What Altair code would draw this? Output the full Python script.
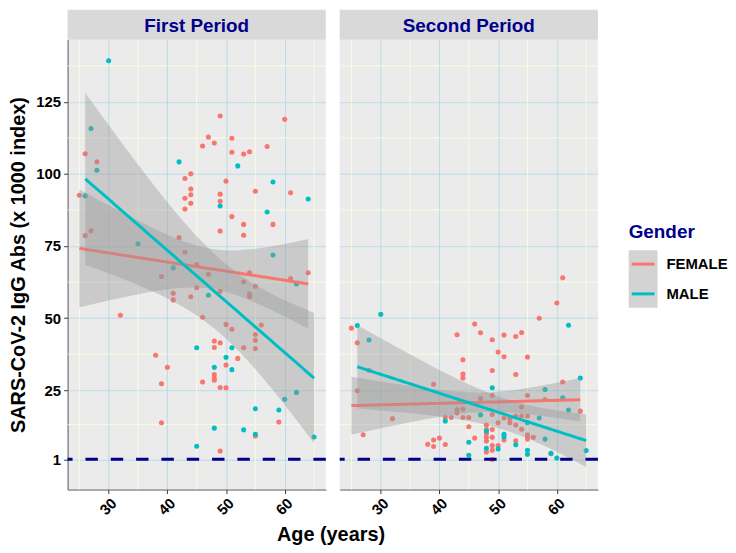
import altair as alt
import numpy as np
import pandas as pd

periods = ["First Period", "Second Period"]
genders = ["FEMALE", "MALE"]
colors = ["#F8766D", "#00BFC4"]

# ---- First period ----
p1_female_age = [49, 60, 47, 51, 48, 46, 57, 51, 54, 53, 26, 28, 44, 43, 50, 44, 55, 61, 25, 44,
                 49, 43, 44, 49, 43, 51, 53, 58, 49, 53, 26, 27, 42, 43, 45, 47, 54, 64, 39, 61,
                 53, 55, 45, 49, 41, 54, 54, 44, 41, 32, 46, 50, 51, 56, 55, 55, 55, 53, 48, 49,
                 48, 52, 50, 38, 40, 39, 46, 48, 48, 48, 49, 50, 59, 39, 55, 49]
p1_female_val = [120.1, 119.0, 112.8, 112.4, 110.7, 109.7, 109.5, 107.5, 107.7, 106.9, 107.0, 104.2,
                 100.1, 98.4, 97.5, 94.8, 94.0, 93.5, 92.6, 92.8, 93.0, 91.6, 89.8, 90.5, 87.8, 85.2,
                 82.5, 82.5, 80.2, 78.7, 78.6, 80.3, 77.9, 72.8, 68.6, 65.2, 65.7, 65.7, 64.4, 63.7,
                 62.6, 61.0, 60.5, 59.3, 58.6, 58.3, 57.4, 57.4, 56.3, 51.0, 50.3, 47.8, 46.1, 47.6,
                 44.3, 42.3, 39.4, 39.7, 42.0, 41.4, 39.8, 36.0, 33.7, 37.1, 32.9, 27.2, 27.8, 30.4,
                 29.2, 28.4, 25.9, 25.8, 13.9, 13.7, 9.1, 3.9]
p1_male_age = [30, 27, 28, 26, 42, 52, 58, 64, 49, 57, 35, 58, 41, 62, 47, 45, 51, 50, 51, 48,
               62, 60, 55, 59, 48, 53, 55, 45, 65]
p1_male_val = [139.3, 115.8, 101.3, 92.4, 104.2, 102.8, 97.2, 91.3, 88.9, 86.8, 75.8, 71.9, 67.4,
               61.8, 57.9, 39.7, 39.7, 36.4, 32.1, 32.9, 24.2, 21.8, 18.5, 18.1, 11.8, 11.2, 9.7,
               5.5, 8.7]

# ---- Second period ----
p2_female_age = [61, 60, 57, 25, 26, 28, 26, 46, 47, 43, 49, 51, 53, 54, 50, 51, 55, 44, 49, 44,
                 44, 53, 61, 58, 64, 39, 32, 27, 47, 49, 54, 55, 44, 43, 43, 41, 42, 44, 45, 45,
                 49, 50, 51, 52, 53, 54, 53, 54, 55, 48, 48, 49, 55, 38, 39, 39, 40, 41, 46, 48,
                 48, 48, 48, 49, 49, 49, 49, 50, 51, 53, 55, 55, 56, 59, 52]
p2_female_val = [64.0, 55.2, 49.9, 46.5, 41.4, 31.9, 24.8, 47.9, 44.9, 44.2, 42.5, 44.1, 43.6, 45.0,
                 38.2, 36.6, 36.5, 35.5, 31.8, 30.6, 29.2, 30.4, 27.8, 21.7, 17.7, 27.0, 15.1, 9.5,
                 22.1, 23.1, 19.1, 23.1, 18.4, 18.2, 17.1, 15.5, 15.5, 15.5, 15.5, 12.3, 16.5, 13.7,
                 15.3, 13.7, 12.9, 11.4, 16.0, 16.0, 16.0, 12.9, 11.3, 11.3, 9.5, 6.2, 7.7, 5.4,
                 8.4, 6.1, 8.4, 9.9, 8.6, 7.3, 3.5, 8.6, 5.8, 4.1, 0.9, 5.8, 7.7, 7.4, 8.9, 8.0,
                 8.6, 2.9, 15.1]
p2_male_age = [62, 30, 26, 28, 49, 64, 58, 61, 62, 41, 47, 57, 55, 48, 51, 45, 45, 48, 50, 51,
               53, 55, 55, 58, 59, 60, 65]
p2_male_val = [47.5, 51.3, 47.4, 42.4, 25.8, 29.2, 25.2, 22.3, 18.1, 14.3, 16.4, 15.3, 13.7, 10.8,
               9.7, 6.9, 2.4, 4.8, 4.6, 8.8, 6.0, 4.1, 2.7, 8.0, 3.1, 1.4, 4.0]

threshold = [1]
x_ticks = [30, 40, 50, 60]
y_ticks = [1, 25, 50, 75, 100, 125]
x_minor = [25, 35, 45, 55, 65]
y_minor = [13, 37.5, 62.5, 87.5, 112.5, 137.5]

FONT = "Liberation Sans"
NAVY = "#00008B"
W, H = 260, 453
STRIP = 30

xscale = alt.Scale(domain=[23, 67], nice=False, zero=False)
yscale = alt.Scale(domain=[-9.5, 146.6], nice=False, zero=False)
cscale = alt.Scale(domain=genders, range=colors)


def t975(df):
    z = 1.959963985
    g1 = (z ** 3 + z) / 4
    g2 = (5 * z ** 5 + 16 * z ** 3 + 3 * z) / 96
    g3 = (3 * z ** 7 + 19 * z ** 5 + 17 * z ** 3 - 15 * z) / 384
    return z + g1 / df + g2 / df ** 2 + g3 / df ** 3


def lm_band(ages, vals, n=80):
    x = np.asarray(ages, float)
    y = np.asarray(vals, float)
    b, a = np.polyfit(x, y, 1)
    m = len(x)
    resid = y - (a + b * x)
    s = np.sqrt((resid ** 2).sum() / (m - 2))
    xbar = x.mean()
    sxx = ((x - xbar) ** 2).sum()
    xs = np.linspace(x.min(), x.max(), n)
    fit = a + b * xs
    se = s * np.sqrt(1.0 / m + (xs - xbar) ** 2 / sxx)
    t = t975(m - 2)
    return pd.DataFrame({"age": xs, "fit": fit, "lo": fit - t * se, "hi": fit + t * se})


def panel(title, fa, fv, ma, mv, first):
    pts = pd.DataFrame({
        "age": fa + ma,
        "value": fv + mv,
        "gender": ["FEMALE"] * len(fa) + ["MALE"] * len(ma),
    })
    xaxis = alt.Axis(values=x_ticks, grid=True, gridColor="#ADD8E6", gridWidth=0.8,
                     labelAngle=315, labelAlign="right", labelBaseline="top",
                     labelFont=FONT, labelFontSize=15, labelFontWeight="bold",
                     labelColor="black", labelPadding=2, tickColor="#333333", tickSize=4,
                     domainColor="#595959", title=None)
    if first:
        yaxis = alt.Axis(values=y_ticks, grid=True, gridColor="#ADD8E6", gridWidth=0.8,
                         labelFont=FONT, labelFontSize=15, labelFontWeight="bold",
                         labelColor="black", labelPadding=3, tickColor="#333333", tickSize=4,
                         domainColor="#595959", title="SARS-CoV-2 IgG Abs (x 1000 index)",
                         titleFont=FONT, titleFontSize=20, titleFontWeight="bold",
                         titleColor="black", titlePadding=7)
    else:
        yaxis = alt.Axis(values=y_ticks, grid=True, gridColor="#ADD8E6", gridWidth=0.8,
                         labels=False, ticks=False, domain=False, title=None,
                         minExtent=0, maxExtent=0, labelPadding=0, tickSize=0)

    def X(f):
        return alt.X(f, scale=xscale, axis=xaxis)

    def Y(f):
        return alt.Y(f, scale=yscale, axis=yaxis)

    xminor = alt.Chart(pd.DataFrame({"v": x_minor})).mark_rule(
        color="#FFFFE0", strokeWidth=0.8).encode(x=X("v:Q"))
    yminor = alt.Chart(pd.DataFrame({"v": y_minor})).mark_rule(
        color="#FFFFE0", strokeWidth=0.8).encode(y=Y("v:Q"))

    points = alt.Chart(pts).mark_circle(size=26, opacity=1).encode(
        x=X("age:Q"),
        y=Y("value:Q"),
        color=alt.Color("gender:N", scale=cscale, legend=None),
    )

    layers = [xminor, yminor, points]
    for g, col, ag, vl in [("FEMALE", colors[0], fa, fv), ("MALE", colors[1], ma, mv)]:
        band = lm_band(ag, vl)
        layers.append(alt.Chart(band).mark_area(color="#999999", opacity=0.4, clip=True).encode(
            x=X("age:Q"),
            y=Y("lo:Q"),
            y2="hi:Q",
        ))
        layers.append(alt.Chart(band).mark_line(color=col, strokeWidth=3, clip=True).encode(
            x=X("age:Q"),
            y=Y("fit:Q"),
        ))

    hline = alt.Chart(pd.DataFrame({"y": threshold})).mark_rule(
        color=NAVY, strokeWidth=3, strokeDash=[12.5, 13]).encode(y=Y("y:Q"))
    layers.append(hline)

    tdf = pd.DataFrame({"label": [title]})
    strip = alt.Chart(tdf).mark_rect(color="#D9D9D9").encode(
        x=alt.value(0), x2=alt.value(W), y=alt.value(-STRIP), y2=alt.value(0))
    stext = alt.Chart(tdf).mark_text(font=FONT, fontSize=19, fontWeight="bold", color=NAVY,
                                     baseline="middle", align="center").encode(
        x=alt.value(W / 2), y=alt.value(-STRIP / 2 + 1), text="label:N")
    layers += [strip, stext]

    return alt.layer(*layers).properties(
        width=W, height=H, view=alt.ViewBackground(fill="#EBEBEB", strokeWidth=0))


p1 = panel(periods[0], p1_female_age, p1_female_val, p1_male_age, p1_male_val, True)
p2 = panel(periods[1], p2_female_age, p2_female_val, p2_male_age, p2_male_val, False)

gdf = pd.DataFrame({"gender": genders})
lscale = alt.Scale(type="point", domain=genders, range=[226, 256], padding=0)
leg_bg = alt.Chart(pd.DataFrame({"k": [0]})).mark_rect(color="#D3D3D3").encode(
    x=alt.value(0), x2=alt.value(29), y=alt.value(212), y2=alt.value(270))
leg_lines = alt.Chart(gdf).mark_rule(strokeWidth=3).encode(
    x=alt.value(3), x2=alt.value(26),
    y=alt.Y("gender:N", scale=lscale, axis=None),
    color=alt.Color("gender:N", scale=cscale, legend=None))
leg_text = alt.Chart(gdf).mark_text(font=FONT, fontSize=15, fontWeight="bold", color="black",
                                    align="left", baseline="middle").encode(
    x=alt.value(38), y=alt.Y("gender:N", scale=lscale, axis=None), text="gender:N")
leg_title = alt.Chart(pd.DataFrame({"t": ["Gender"]})).mark_text(
    font=FONT, fontSize=19, fontWeight="bold", color=NAVY, align="left",
    baseline="alphabetic").encode(x=alt.value(0), y=alt.value(200), text="t:N")
legend = alt.layer(leg_bg, leg_lines, leg_text, leg_title).properties(
    width=90, height=H, view=alt.ViewBackground(fill="white", strokeWidth=0))

panels = alt.hconcat(
    p1, p2, spacing=10,
    title=alt.TitleParams(text="Age (years)", orient="bottom", anchor="middle", dx=27,
                          font=FONT, fontSize=20, fontWeight="bold", color="black",
                          offset=7),
).resolve_scale(x="independent", y="independent")
chart = alt.hconcat(panels, legend, spacing=29).resolve_scale(
    x="independent", y="independent", color="independent").properties(
    padding=0, background="white")

chart.save("out.html", embed_options={"renderer": "svg", "actions": False})
